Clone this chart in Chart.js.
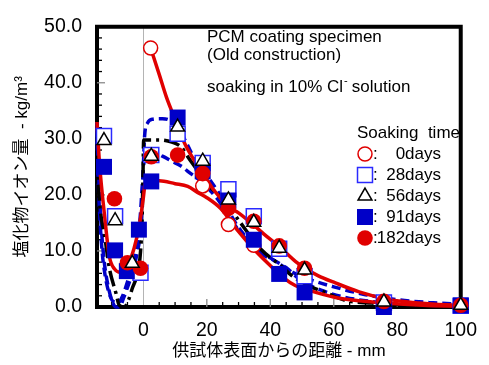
<!DOCTYPE html>
<html>
<head>
<meta charset="utf-8">
<script src="https://cdn.jsdelivr.net/npm/chart.js@4.4.0/dist/chart.umd.min.js"></script>
<style>
  html, body { margin: 0; padding: 0; background: #fff; }
  #wrap { width: 489px; height: 365px; }
</style>
</head>
<body>
<div id="wrap"><canvas id="chloride" width="489" height="365"></canvas></div>
<script>
// measured chloride content (kg/m3) against depth from surface (mm)
const day0X = [2.3, 18.7, 26.8, 34.8];
const day0Y = [46.2, 21.6, 14.7, 11.0];
const day28X = [-12.4, -8.9, -0.9, 2.5, 10.8, 18.7, 26.8, 34.8, 42.8, 50.8, 75.8, 100];
const day28Y = [30.5, 16.2, 6.1, 27.1, 30.9, 25.7, 21.0, 16.2, 10.4, 5.5, 0.8, 0.2];
const day56X = [-12.4, -8.9, -3.5, 2.5, 10.8, 18.7, 26.8, 34.8, 42.8, 50.8, 75.8, 100];
const day56Y = [29.7, 15.4, 7.8, 26.9, 32.1, 26.0, 19.1, 15.1, 10.5, 6.6, 0.9, 0.3];
const day91X = [-12.4, -8.9, -5.2, -1.4, 2.5, 10.8, 18.7, 26.8, 34.8, 42.8, 50.8, 75.8, 100];
const day91Y = [25.0, 10.1, 6.4, 13.8, 22.4, 33.8, 24.2, 19.0, 12.0, 5.9, 2.6, 0.0, 0.3];
const day182X = [-9.1, -5.0, -0.9, 2.5, 10.8, 18.7, 26.8, 34.8, 42.8, 50.8, 75.8, 100];
const day182Y = [19.3, 7.9, 6.9, 26.8, 27.1, 23.8, 17.6, 15.3, 10.9, 6.9, 1.0, 0.3];

// hand-drawn profile curves
const redHighX = [2.3, 5, 7.3, 10, 13, 16, 18.7, 22, 26.8, 30, 34.8, 38, 42.8, 48, 51, 55, 60.5, 68, 76, 85, 92, 100];
const redHighY = [46.2, 41.5, 37.4, 33.5, 29.2, 26.2, 24.0, 21.0, 18.0, 16.8, 14.6, 13.0, 10.8, 8.1, 6.9, 5.6, 4.3, 2.7, 1.5, 0.8, 0.5, 0.3];
const redLowX = [-14.6, -14.2, -13.7, -12.2, -10.7, -9.1, -7.3, -5.5, -4, -2, -1, 0, 0.6, 2, 5, 10, 14, 17.2, 20, 24.3, 29.5, 34.7, 39.8, 44, 48, 52, 60.5, 68, 76, 88, 100];
const redLowY = [33, 29, 24.8, 16.2, 9.0, 6.8, 6.2, 6.5, 8.5, 12.5, 15.5, 19.5, 22, 22.4, 22.5, 22.0, 21.5, 20.4, 19.5, 17.6, 13.8, 10.4, 7.5, 5.3, 3.8, 3.0, 1.7, 1.1, 0.7, 0.3, 0.1];
const blackX = [-14.6, -14.3, -13.5, -12.2, -10.7, -8.6, -7.6, -6, -4.5, -3.5, -1.9, -0.9, -0.4, -0.1, 0.1, 5.3, 9, 12, 14, 16.5, 20, 23.3, 25.8, 30, 37.2, 42.8, 47, 52, 57.3, 63.5, 72, 85, 100];
const blackY = [27, 22.5, 17, 12.7, 6.9, 2.4, 0.3, 0, 1.5, 3.3, 5.9, 9.8, 15.5, 24, 29.8, 29.8, 29.4, 28.5, 26.8, 24.8, 22, 20.2, 18.8, 15.5, 10.2, 7.6, 5.5, 3.8, 2.6, 1.2, 0.7, 0.3, 0.1];
const blueAX = [-14.6, -14.3, -13.8, -13.1, -12.2, -11, -9.8, -8.6, -7.4, -6.3, -5, -3.5, -2, -1, -0.4, 0, 0.4, 1.3, 3, 6, 8, 10, 12, 14, 17, 20.8, 23.9, 29.5, 36, 41, 47, 53, 60, 70, 80, 90, 100];
const blueAY = [33, 27, 20, 13, 7.5, 3.5, 1, 0, 0, 1.5, 3.5, 6, 9.5, 13, 18, 25, 30.5, 32.8, 33.5, 33.6, 33.4, 32.6, 31, 28.8, 25.5, 22.8, 20.2, 14.6, 10.3, 8.4, 6.2, 4.8, 3.6, 2.2, 1.3, 0.8, 0.5];
const blueBX = [-14.6, -14.3, -13.8, -13, -12, -10.8, -9.5, -8, -6.5, -5, -3.5, -2, -1, -0.3, 0.3, 1.5, 3, 6, 9, 12, 14, 18, 21, 23.3, 26, 29.5, 36.2, 40.9, 45, 50, 56, 63, 73, 85, 100];
const blueBY = [32, 24, 17, 10, 5.5, 2.5, 1.0, 0.8, 2, 4.5, 7, 11, 16, 22, 26.5, 27.5, 27.6, 26.9, 26, 25.1, 24.2, 22.5, 20.8, 19.3, 17, 14.1, 9.8, 8.4, 7, 4.6, 3.0, 1.8, 0.9, 0.4, 0.2];

const xTickValues = [0, 20, 40, 60, 80, 100];
const yTickValues = [0, 10, 20, 30, 40, 50];

const RED = '#e00000';
const BLUE = '#0000c8';
const BLUE_LINE = '#2a2aff';
const FONT = '"Liberation Sans", Arial, "Noto Sans CJK JP", sans-serif';

const pts = (xs, ys) => xs.map((x, i) => ({ x: x, y: ys[i] }));

function curve(xs, ys, color, dash, order) {
    return {
        type: 'line',
        data: pts(xs, ys),
        borderColor: color,
        borderWidth: 3.5,
        borderDash: dash,
        pointRadius: 0,
        cubicInterpolationMode: 'monotone',
        fill: false,
        clip: false,
        order: order
    };
}

// legend rows: marker style + label
const legendRows = [
    { style: 'circle', radius: 7, fill: '#fff', stroke: RED, lw: 1.5, label: '0days' },
    { style: 'rect', radius: 10.6, fill: '#fff', stroke: BLUE_LINE, lw: 1.5, label: '28days' },
    { style: 'triangle', radius: 8, fill: '#fff', stroke: '#000', lw: 1.5, label: '56days' },
    { style: 'rect', radius: 11.3, fill: BLUE, stroke: BLUE, lw: 0, label: '91days' },
    { style: 'circle', radius: 7.8, fill: RED, stroke: RED, lw: 0, label: '182days' }
];

const markerSets = [
    { xs: day56X, ys: day56Y, row: legendRows[2], order: 0 },
    { xs: day182X, ys: day182Y, row: legendRows[4], order: 1 },
    { xs: day91X, ys: day91Y, row: legendRows[3], order: 2 },
    { xs: day28X, ys: day28Y, row: legendRows[1], order: 3 },
    { xs: day0X, ys: day0Y, row: legendRows[0], order: 4 }
];

const datasets = markerSets.map(m => ({
    type: 'scatter',
    label: m.row.label,
    data: pts(m.xs, m.ys),
    pointStyle: m.row.style,
    pointRadius: m.row.radius,
    pointBackgroundColor: m.row.fill,
    pointBorderColor: m.row.stroke,
    pointBorderWidth: m.row.lw,
    clip: false,
    order: m.order
}));

datasets.push(curve(redHighX, redHighY, RED, [], 10));
datasets.push(curve(redLowX, redLowY, RED, [], 11));
datasets.push(curve(blackX, blackY, '#000', [16, 5, 3, 5], 12));
datasets.push(curve(blueAX, blueAY, BLUE, [9, 5], 13));
datasets.push(curve(blueBX, blueBY, BLUE, [9, 5], 14));

// frame, inward minor ticks, caption and legend
const decorations = {
    id: 'decorations',
    beforeDatasetsDraw(chart) {
        const { ctx, chartArea: a, scales: { x, y } } = chart;
        ctx.save();
        ctx.strokeStyle = '#000';
        ctx.lineWidth = 4;
        ctx.beginPath();
        ctx.moveTo(a.left - 2, a.top);
        ctx.lineTo(a.right, a.top);
        ctx.lineTo(a.right, a.bottom + 2);
        ctx.stroke();

        for (let v = 2; v < 50; v += 2) {
            const py = y.getPixelForValue(v);
            const major = v % 10 === 0;
            ctx.strokeStyle = major ? '#8a8a8a' : '#000';
            ctx.lineWidth = 1.3;
            ctx.beginPath();
            ctx.moveTo(a.left, py);
            ctx.lineTo(a.left + (major ? 8 : 5), py);
            ctx.stroke();
        }
        for (let v = -10; v < 100; v += 5) {
            if (v === 0) continue;
            const px = x.getPixelForValue(v);
            const major = v % 20 === 0;
            ctx.strokeStyle = major ? '#8a8a8a' : '#000';
            ctx.lineWidth = 1.3;
            ctx.beginPath();
            ctx.moveTo(px, a.bottom);
            ctx.lineTo(px, a.bottom - (major ? 8 : 5));
            ctx.stroke();
        }
        ctx.restore();
    },
    afterDatasetsDraw(chart) {
        const { ctx } = chart;
        ctx.save();
        ctx.fillStyle = '#000';
        ctx.textBaseline = 'alphabetic';
        ctx.textAlign = 'left';
        ctx.font = '17px ' + FONT;
        ctx.fillText('PCM coating specimen', 207, 42);
        ctx.fillText('(Old construction)', 207, 60);
        const head = 'soaking in 10% Cl';
        ctx.fillText(head, 207, 92);
        const w = ctx.measureText(head).width;
        ctx.font = '11px ' + FONT;
        ctx.fillText('-', 207 + w + 1, 84);
        ctx.font = '17px ' + FONT;
        ctx.fillText(' solution', 207 + w + 4, 92);

        ctx.textBaseline = 'middle';
        ctx.fillText('Soaking  time', 357, 133);
        legendRows.forEach((r, i) => {
            const cy = 154 + i * 21;
            ctx.fillStyle = r.fill;
            ctx.strokeStyle = r.stroke;
            ctx.lineWidth = r.lw;
            Chart.helpers.drawPoint(ctx, { pointStyle: r.style, radius: r.radius, borderWidth: r.lw, rotation: 0 }, 365, cy);
            ctx.fillStyle = '#000';
            ctx.textAlign = 'left';
            ctx.fillText(':', 373, cy);
            ctx.textAlign = 'right';
            ctx.fillText(r.label, 441, cy);
        });
        ctx.restore();
    }
};

Chart.defaults.font.family = FONT;
Chart.defaults.color = '#000';

new Chart(document.getElementById('chloride'), {
    type: 'scatter',
    data: { datasets: datasets },
    options: {
        responsive: false,
        animation: false,
        layout: { padding: { left: 0, right: 20, top: 16, bottom: 0 } },
        plugins: { legend: { display: false }, tooltip: { enabled: false } },
        scales: {
            x: {
                type: 'linear',
                min: -14.6,
                max: 100,
                afterBuildTicks: s => { s.ticks = xTickValues.map(v => ({ value: v })); },
                afterFit: s => { s.height = 58; },
                ticks: { font: { size: 19.5 }, color: '#000', padding: 12, maxRotation: 0, autoSkip: false },
                grid: {
                    drawTicks: false,
                    lineWidth: 1,
                    color: c => (c.tick && c.tick.value === 0 ? '#b4b4b4' : 'rgba(0,0,0,0)')
                },
                border: { color: '#000', width: 4 },
                title: { display: true, text: '供試体表面からの距離 - mm', font: { size: 17 }, color: '#000', padding: { top: 0, bottom: 3 } }
            },
            y: {
                min: 0,
                max: 50,
                afterBuildTicks: s => { s.ticks = yTickValues.map(v => ({ value: v })); },
                afterFit: s => { s.width = 97; },
                ticks: { font: { size: 19.5 }, color: '#000', padding: 15, callback: v => v.toFixed(1) },
                grid: { display: false, drawTicks: false },
                border: { color: '#000', width: 4 },
                title: { display: true, text: '塩化物イオン量  - kg/m³', font: { size: 17 }, color: '#000', padding: { top: 12, bottom: 0 } }
            }
        }
    },
    plugins: [decorations]
});
</script>
</body>
</html>
